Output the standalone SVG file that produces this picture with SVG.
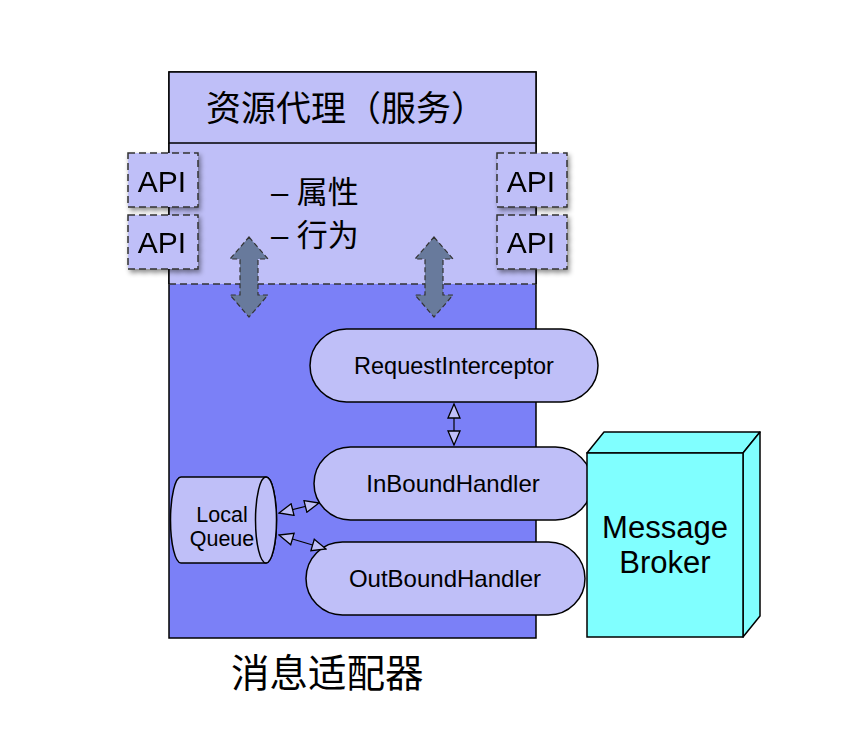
<svg xmlns="http://www.w3.org/2000/svg" width="854" height="740" viewBox="0 0 854 740">
<style>
.t{font-family:"Liberation Sans","Noto Sans CJK SC",sans-serif;fill:#000}
.pill{fill:#bfbff8;stroke:#000;stroke-width:1.5}
.api{fill:#bfbff8;stroke:#333;stroke-width:1.5;stroke-dasharray:7,4}
.blk{fill:#687a9c;stroke:#333;stroke-width:1.2;stroke-dasharray:5,3}
.con{stroke:#000;stroke-width:1.2;fill:none}
</style>
<defs>
<filter id="sh" x="-20%" y="-20%" width="150%" height="150%">
<feDropShadow dx="2" dy="3" stdDeviation="2.5" flood-color="#000" flood-opacity="0.45"/>
</filter>
<marker id="tri" viewBox="0 0 16 14" refX="15" refY="7" markerWidth="16" markerHeight="14" markerUnits="userSpaceOnUse" orient="auto-start-reverse">
<path d="M1,1 L15,7 L1,13 Z" fill="#bfbff8" stroke="#000" stroke-width="1.3"/>
</marker>
</defs>
<rect width="854" height="740" fill="#fff"/>
<g id="adapter">
<rect x="169" y="72" width="367" height="566" fill="#7b80f7" stroke="#000" stroke-width="1.5"/>
<rect x="169" y="143" width="367" height="141" fill="#bfbff8"/>
<line x1="169" y1="284" x2="536" y2="284" stroke="#333" stroke-width="1.5" stroke-dasharray="7,4"/>
<line x1="169" y1="143" x2="169" y2="284" stroke="#000" stroke-width="1.5"/>
<line x1="536" y1="143" x2="536" y2="284" stroke="#000" stroke-width="1.5"/>
<rect x="169" y="72" width="367" height="71" fill="#bfbff8" stroke="#000" stroke-width="1.5"/>
<text class="t" x="206" y="121" font-size="35">资源代理（服务）</text>
<text class="t" x="271" y="203" font-size="31">– 属性</text>
<text class="t" x="271" y="246" font-size="31">– 行为</text>
<text class="t" x="231" y="687" font-size="38.5">消息适配器</text>
</g>
<g id="api-l1" filter="url(#sh)"><rect class="api" x="128" y="153" width="70" height="54"/><text class="t" x="162" y="192" font-size="30" text-anchor="middle">API</text></g>
<g id="api-l2" filter="url(#sh)"><rect class="api" x="128" y="215" width="70" height="54"/><text class="t" x="162" y="253" font-size="30" text-anchor="middle">API</text></g>
<g id="api-r1" filter="url(#sh)"><rect class="api" x="497" y="153" width="70" height="54"/><text class="t" x="531" y="192" font-size="30" text-anchor="middle">API</text></g>
<g id="api-r2" filter="url(#sh)"><rect class="api" x="497" y="215" width="70" height="54"/><text class="t" x="531" y="253" font-size="30" text-anchor="middle">API</text></g>
<g id="arrow-l"><path class="blk" d="M249,237 L268,259 L258,259 L258,295 L268,295 L249,317 L230,295 L240,295 L240,259 L230,259 Z"/></g>
<g id="arrow-r"><path class="blk" d="M434,237 L453,259 L443,259 L443,295 L453,295 L434,317 L415,295 L425,295 L425,259 L415,259 Z"/></g>
<g id="request-interceptor"><rect class="pill" x="310" y="329" width="288" height="73" rx="36.5"/><text class="t" x="454" y="374" font-size="23.5" text-anchor="middle">RequestInterceptor</text></g>
<g id="inbound"><rect class="pill" x="314" y="447" width="278" height="73" rx="36.5"/><text class="t" x="453" y="492" font-size="24" text-anchor="middle">InBoundHandler</text></g>
<g id="outbound"><rect class="pill" x="306" y="542" width="279" height="73" rx="36.5"/><text class="t" x="445" y="587" font-size="24" text-anchor="middle">OutBoundHandler</text></g>
<g id="local-queue">
<path d="M181,477 L266,477 A10.5,43 0 0 1 266,563 L181,563 A10.5,43 0 0 1 181,477 Z" fill="#bfbff8" stroke="#000" stroke-width="1.5"/>
<ellipse cx="266" cy="520" rx="10.5" ry="43" fill="#bfbff8" stroke="#000" stroke-width="1.5"/>
<text class="t" x="222" y="522" font-size="21.5" text-anchor="middle">Local</text>
<text class="t" x="222" y="546" font-size="21.5" text-anchor="middle">Queue</text>
</g>
<g id="message-broker">
<path d="M587,453 L604,432 L760,432 L743,453 Z" fill="#80ffff" stroke="#000" stroke-width="1.5" stroke-linejoin="round"/>
<path d="M743,453 L760,432 L760,616 L743,637 Z" fill="#80ffff" stroke="#000" stroke-width="1.5" stroke-linejoin="round"/>
<rect x="587" y="453" width="156" height="184" fill="#80ffff" stroke="#000" stroke-width="1.5"/>
<text class="t" x="665" y="538" font-size="31" text-anchor="middle">Message</text>
<text class="t" x="665" y="573" font-size="31" text-anchor="middle">Broker</text>
</g>
<g id="connectors">
<line class="con" x1="454" y1="404" x2="454" y2="445" marker-start="url(#tri)" marker-end="url(#tri)"/>
<line class="con" x1="279" y1="513" x2="319" y2="503" marker-start="url(#tri)" marker-end="url(#tri)"/>
<line class="con" x1="279" y1="535" x2="326" y2="549" marker-start="url(#tri)" marker-end="url(#tri)"/>
</g>
</svg>
